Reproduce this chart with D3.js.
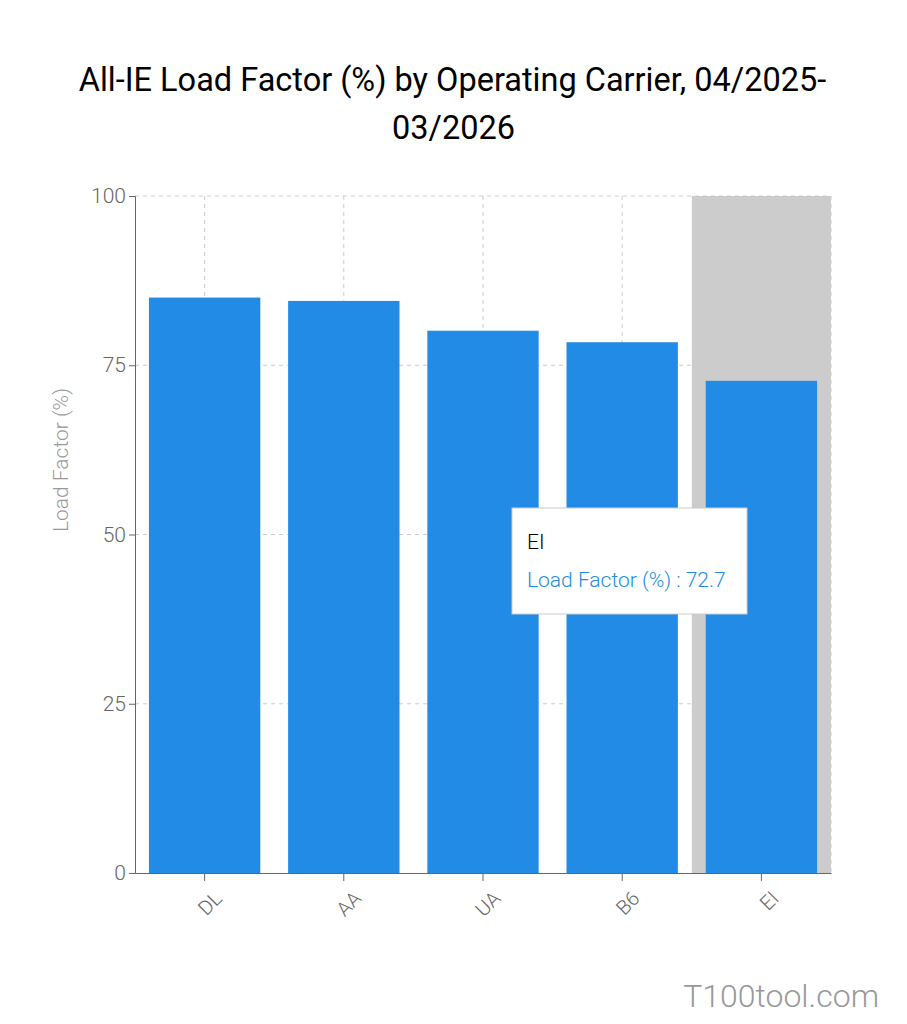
<!DOCTYPE html>
<html lang="en">
<head>
<meta charset="UTF-8">
<title>All-IE Load Factor</title>
<script src="https://cdn.jsdelivr.net/npm/d3@7"></script>
<style>
  body { margin: 0; background: #fff; }
  text { font-family: Roboto, "Noto Sans", sans-serif; }
</style>
</head>
<body>
<script>
// data
var carriers = ['DL', 'AA', 'UA', 'B6', 'EI'];
var loadFactor = [85.0, 84.5, 80.1, 78.4, 72.7];
var yTicks = [0, 25, 50, 75, 100];
var highlighted = 'EI';

var W = 907, H = 1024;
var m = {left: 135, right: 76, top: 196, bottom: 151};
var iw = W - m.left - m.right, ih = H - m.top - m.bottom;

var svg = d3.select('body').append('svg')
    .attr('width', W)
    .attr('height', H);

// title
svg.append('text')
    .attr('x', W / 2 - 1).attr('y', 91)
    .attr('text-anchor', 'middle')
    .style('font-size', '32.5px').style('fill', '#000')
    .text('All-IE Load Factor (%) by Operating Carrier, 04/2025-');
svg.append('text')
    .attr('x', W / 2).attr('y', 139)
    .attr('text-anchor', 'middle')
    .style('font-size', '32.5px').style('fill', '#000')
    .text('03/2026');

var g = svg.append('g').attr('transform', 'translate(' + m.left + ',' + m.top + ')');

var x = d3.scaleBand()
    .domain(carriers)
    .range([0, iw])
    .paddingInner(0.2)
    .paddingOuter(0.1);

var y = d3.scaleLinear()
    .domain([0, 100])
    .range([ih, 0]);

// hover shade behind highlighted category
var step = x.step();
g.append('rect')
    .attr('x', x(highlighted) - step * x.paddingInner() / 2)
    .attr('y', 0)
    .attr('width', step)
    .attr('height', ih)
    .attr('fill', '#cccccc');

// grid
g.selectAll('.hgrid')
    .data(yTicks.filter(function (d) { return d > 0; }))
    .enter().append('line')
    .attr('x1', 0).attr('x2', iw)
    .attr('y1', function (d) { return y(d); })
    .attr('y2', function (d) { return y(d); })
    .attr('stroke', '#ccc')
    .attr('stroke-dasharray', '4,4');

g.selectAll('.vgrid')
    .data(carriers)
    .enter().append('line')
    .attr('x1', function (d) { return x(d) + x.bandwidth() / 2; })
    .attr('x2', function (d) { return x(d) + x.bandwidth() / 2; })
    .attr('y1', 0).attr('y2', ih)
    .attr('stroke', '#ccc')
    .attr('stroke-dasharray', '4,4');

g.append('line')
    .attr('x1', iw).attr('x2', iw)
    .attr('y1', 0).attr('y2', ih)
    .attr('stroke', '#ccc')
    .attr('stroke-dasharray', '4,4');

// bars
g.selectAll('.bar')
    .data(carriers)
    .enter().append('rect')
    .attr('x', function (d) { return x(d); })
    .attr('y', function (d, i) { return y(loadFactor[i]); })
    .attr('width', x.bandwidth())
    .attr('height', function (d, i) { return ih - y(loadFactor[i]); })
    .attr('fill', '#228be6');

// axes
var yAxis = g.append('g')
    .call(d3.axisLeft(y).tickValues(yTicks).tickSize(6).tickPadding(3));
yAxis.select('.domain').attr('stroke', '#666');
yAxis.selectAll('.tick line').attr('stroke', '#666');
yAxis.selectAll('.tick text')
    .style('font-size', '21px')
    .style('font-weight', '300')
    .style('fill', '#666')
    .style('font-family', 'Roboto, sans-serif');

var xAxis = g.append('g')
    .attr('transform', 'translate(0,' + ih + ')')
    .call(d3.axisBottom(x).tickSize(8).tickSizeOuter(0));
xAxis.select('.domain').attr('stroke', '#666');
xAxis.selectAll('.tick line').attr('stroke', '#666');
xAxis.selectAll('.tick text')
    .style('font-size', '20px')
    .style('font-weight', '300')
    .style('fill', '#666')
    .style('font-family', 'Roboto, sans-serif')
    .attr('text-anchor', 'end')
    .attr('dy', '0.35em')
    .attr('transform', 'translate(6,14) rotate(-45)');

// y label
svg.append('text')
    .attr('transform', 'translate(68,' + (m.top + ih * 0.39) + ') rotate(-90)')
    .attr('text-anchor', 'middle')
    .style('font-size', '21px')
    .style('font-weight', '300')
    .style('fill', '#999')
    .text('Load Factor (%)');

// tooltip
var hi = carriers.indexOf(highlighted);
var tip = svg.append('g').attr('transform', 'translate(512,508)');
tip.append('rect')
    .attr('width', 235).attr('height', 106)
    .attr('fill', '#fff')
    .attr('stroke', '#ccc');
tip.append('text')
    .attr('x', 15).attr('y', 41)
    .style('font-size', '21px').style('font-weight', '300').style('fill', '#000')
    .text(highlighted);
tip.append('text')
    .attr('x', 15).attr('y', 79)
    .style('font-size', '21px').style('font-weight', '300').style('fill', '#228be6')
    .text('Load Factor (%) : ' + loadFactor[hi]);

// watermark
svg.append('text')
    .attr('x', 879).attr('y', 1007)
    .attr('text-anchor', 'end')
    .style('font-size', '32px')
    .style('font-weight', '300')
    .style('fill', '#999')
    .text('T100tool.com');
</script>
</body>
</html>
